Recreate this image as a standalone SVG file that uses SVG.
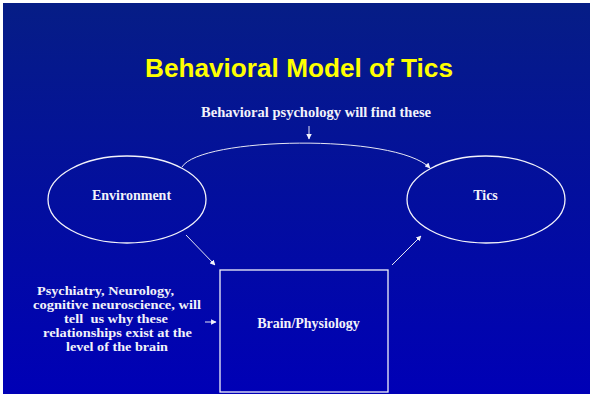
<svg xmlns="http://www.w3.org/2000/svg" width="593" height="397" viewBox="0 0 593 397">
  <defs>
    <linearGradient id="bg" x1="0" y1="0" x2="0" y2="1">
      <stop offset="0" stop-color="#061d86"/>
      <stop offset="1" stop-color="#0000b6"/>
    </linearGradient>
    <marker id="arrow" viewBox="0 0 10 10" refX="9" refY="5" markerWidth="5.5" markerHeight="5.5" markerUnits="userSpaceOnUse" orient="auto">
      <path d="M0,0 L10,5 L0,10 z" fill="#f2f2fa"/>
    </marker>
    <style>
      .lbl { font-family: "Liberation Serif", "Times New Roman", serif; font-weight: bold; font-size: 14px; fill: #f2f2fa; }
      .note { font-family: "Liberation Serif", "Times New Roman", serif; font-weight: bold; font-size: 12.5px; fill: #f2f2fa; }
      .shape { fill: none; stroke: #f2f2fa; stroke-width: 1.3; }
      .conn { fill: none; stroke: #e6e6f4; stroke-width: 1; marker-end: url(#arrow); }
    </style>
  </defs>

  <!-- slide background -->
  <rect x="0" y="0" width="593" height="397" fill="#ffffff"/>
  <rect x="3" y="3" width="587" height="391" fill="url(#bg)"/>

  <!-- title -->
  <text x="299" y="77" text-anchor="middle" font-family="'Liberation Sans', Arial, sans-serif" font-weight="bold" font-size="25" fill="#ffff00" textLength="308" lengthAdjust="spacingAndGlyphs">Behavioral Model of Tics</text>

  <!-- annotations -->
  <text class="lbl" x="316" y="117" text-anchor="middle" textLength="230" lengthAdjust="spacingAndGlyphs">Behavioral psychology will find these</text>
  <g class="note" lengthAdjust="spacingAndGlyphs">
    <text x="37" y="295" textLength="137" lengthAdjust="spacingAndGlyphs">Psychiatry, Neurology,</text>
    <text x="33" y="309" textLength="168" lengthAdjust="spacingAndGlyphs">cognitive neuroscience, will</text>
    <text x="64" y="323" textLength="104" lengthAdjust="spacingAndGlyphs" xml:space="preserve">tell  us why these</text>
    <text x="43" y="337" textLength="149" lengthAdjust="spacingAndGlyphs">relationships exist at the</text>
    <text x="66" y="351" textLength="102" lengthAdjust="spacingAndGlyphs">level of the brain</text>
  </g>

  <!-- nodes -->
  <g id="environment">
    <ellipse class="shape" cx="127" cy="199.5" rx="79" ry="43.5"/>
    <text class="lbl" x="131.5" y="200" text-anchor="middle">Environment</text>
  </g>
  <g id="tics">
    <ellipse class="shape" cx="486" cy="199.5" rx="79" ry="43.5"/>
    <text class="lbl" x="485.5" y="200" text-anchor="middle">Tics</text>
  </g>
  <g id="brain">
    <rect class="shape" x="220" y="270" width="168" height="122"/>
    <text class="lbl" x="308.5" y="328" text-anchor="middle">Brain/Physiology</text>
  </g>

  <!-- connectors -->
  <g id="connectors">
    <path class="conn" d="M182,167 C200,137 395,133 430,168"/>
    <path class="conn" d="M186,235 L215,265"/>
    <path class="conn" d="M392,265 L421,236"/>
    <path class="conn" d="M309,126 L309,139"/>
    <path class="conn" d="M205,322 L216,322"/>
  </g>
</svg>
